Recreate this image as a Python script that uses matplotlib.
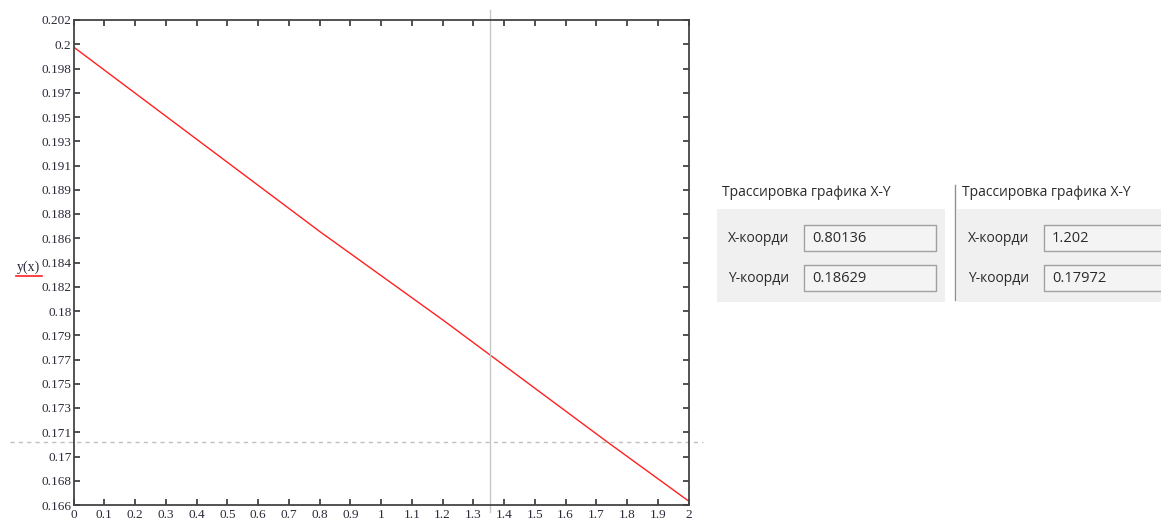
import matplotlib.pyplot as plt
from matplotlib.patches import Rectangle
import numpy as np

# curve points (trace values included)
x_vals = [0.0, 0.80136, 1.202, 1.7346, 2.0]
y_vals = [0.2, 0.18629, 0.17972, 0.1707, 0.1663]

# trace cursor positions
cursor_x = 1.356
cursor_y = 0.17068

x_ticks = [0.0, 0.1, 0.2, 0.3, 0.4, 0.5, 0.6, 0.7, 0.8, 0.9, 1.0,
           1.1, 1.2, 1.3, 1.4, 1.5, 1.6, 1.7, 1.8, 1.9, 2.0]
x_ticklabels = ['0', '0.1', '0.2', '0.3', '0.4', '0.5', '0.6', '0.7', '0.8', '0.9', '1',
                '1.1', '1.2', '1.3', '1.4', '1.5', '1.6', '1.7', '1.8', '1.9', '2']
y_ticks = [0.166, 0.1678, 0.1696, 0.1714, 0.1732, 0.175, 0.1768, 0.1786, 0.1804, 0.1822, 0.184,
           0.1858, 0.1876, 0.1894, 0.1912, 0.193, 0.1948, 0.1966, 0.1984, 0.2002, 0.202]
y_ticklabels = ['0.166', '0.168', '0.17', '0.171', '0.173', '0.175', '0.177', '0.179', '0.18', '0.182',
                '0.184', '0.186', '0.188', '0.189', '0.191', '0.193', '0.195', '0.197', '0.198', '0.2', '0.202']

trace_title = 'Трассировка графика X-Y'
trace_xlabel = 'X-коорди'
trace_ylabel = 'Y-коорди'
trace1 = ['0.80136', '0.18629']
trace2 = ['1.202', '0.17972']

W, H = 1161, 520
fig = plt.figure(figsize=(W / 100, H / 100), dpi=100)
fig.patch.set_facecolor('white')

# main plot area (pixel box 73.5..688.5 x 20..505)
ax = fig.add_axes([73.5 / W, (H - 505) / H, 615 / W, 485 / H])
ax.plot(x_vals, y_vals, color='#ff2020', linewidth=1.0)
ax.set_xlim(0, 2)
ax.set_ylim(0.166, 0.202)
ax.set_xticks(x_ticks)
ax.set_xticklabels(x_ticklabels)
ax.set_yticks(y_ticks)
ax.set_yticklabels(y_ticklabels)
for lab in ax.get_xticklabels() + ax.get_yticklabels():
    lab.set_family('Liberation Serif')
    lab.set_fontsize(9.5)
    lab.set_color('#2a2a3a')
ax.tick_params(direction='in', length=4, width=1.2, color='#333333',
               top=True, right=True)
ax.tick_params(axis='x', pad=3)
ax.tick_params(axis='y', pad=1.5)
for sp in ax.spines.values():
    sp.set_color('#444444')
    sp.set_linewidth(1.3)

# cursor lines (extend past the frame like in the trace view)
ax.axvline(cursor_x, ymin=-0.015, ymax=1.021, color='#c8c8c8', linewidth=1.0, clip_on=False)
ax.axhline(cursor_y, xmin=-0.103, xmax=1.023, color='#c0c0c0', linewidth=1.0,
           linestyle=(0, (3, 3)), clip_on=False)

# overlay in pixel coords for the label and trace panels
ov = fig.add_axes([0, 0, 1, 1], facecolor='none')
ov.set_xlim(0, W)
ov.set_ylim(H, 0)
ov.axis('off')

ov.text(29, 267, 'y(x)', family='Liberation Serif', fontsize=10, color='#2a2a3a',
        ha='center', va='center')
ov.plot([16, 42], [276, 276], color='#ff2020', linewidth=1.2)

def panel(x0, vals, sep):
    ov.text(x0 + 5, 193, trace_title, family='Open Sans', fontsize=10, color='#2a2a2a',
            va='center', ha='left')
    ov.add_patch(Rectangle((x0, 209), 228, 93, facecolor='#f0f0f0', edgecolor='none'))
    for i, (lab, val) in enumerate(zip([trace_xlabel, trace_ylabel], vals)):
        yc = 238 + 40 * i
        t = ov.text(x0 + 11, yc, lab, family='Open Sans', fontsize=10, color='#2a2a2a',
                    va='center', ha='left')
        clip = Rectangle((x0 + 5, yc - 15), 80, 30, transform=ov.transData)
        t.set_clip_path(clip)
        ov.add_patch(Rectangle((x0 + 87, yc - 13), 132, 26, facecolor='#f4f4f4',
                               edgecolor='#a0a0a0', linewidth=1.0))
        ov.text(x0 + 95, yc, val, family='Open Sans', fontsize=10.5, color='#2a2a2a',
                va='center', ha='left')
    if sep:
        ov.plot([x0 - 2, x0 - 2], [185, 300], color='#909090', linewidth=1.0)

panel(717, trace1, False)
panel(957, trace2, True)

fig.savefig('out.png', dpi=100)
